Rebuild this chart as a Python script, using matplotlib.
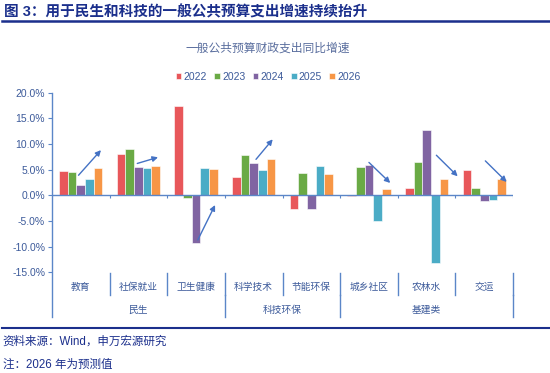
import matplotlib
matplotlib.use('Agg')
import matplotlib.pyplot as plt
from matplotlib.lines import Line2D
from matplotlib.ticker import FuncFormatter
import numpy as np

plt.rcParams['font.family'] = ['Liberation Sans', 'Noto Sans CJK SC', 'DejaVu Sans']

# data (%)
categories = ['教育', '社保就业', '卫生健康', '科学技术', '节能环保', '城乡社区', '农林水', '交运']
groups = ['民生', '科技环保', '基建类']
group_spans = [(0, 3), (3, 5), (5, 8)]
years = ['2022', '2023', '2024', '2025', '2026']
v2022 = [4.8, 8.0, 17.4, 3.5, -2.6, -0.1, 1.5, 5.0]
v2023 = [4.5, 9.0, -0.6, 7.9, 4.3, 5.6, 6.5, 1.5]
v2024 = [2.0, 5.5, -9.2, 6.2, -2.6, 5.9, 12.8, -1.1]
v2025 = [3.1, 5.3, 5.3, 4.9, 5.8, -5.0, -13.1, -0.9]
v2026 = [5.3, 5.8, 5.1, 7.1, 4.1, 1.3, 3.2, 3.2]
series = [v2022, v2023, v2024, v2025, v2026]

# trend arrows: (x_start, y_start, x_end, y_end) in category / % units
arrows = [(-0.04, 3.9, 0.35, 8.8), (0.98, 6.2, 1.34, 7.4), (2.03, -8.7, 2.33, -1.9),
          (3.04, 7.0, 3.33, 10.9), (5.0, 6.4, 5.37, 2.4), (6.17, 7.8, 6.54, 3.7),
          (7.02, 6.7, 7.39, 2.6)]

COLOURS = ['#E8575A', '#6AAA45', '#8064A2', '#4BACC6', '#F79646']
AXIS_C = '#5B86C8'
TEXT_C = '#3C5A9A'
NAVY = '#1B2F8C'

fig = plt.figure(figsize=(5.5, 3.73), dpi=100)
ax = fig.add_axes([52/550, 1 - 272.3/373, 461/550, (272.3 - 92.6)/373])

x = np.arange(len(categories))
w = 0.15
for j, vals in enumerate(series):
    ax.bar(x + (j - 2) * w, vals, w, color=COLOURS[j], label=years[j],
           edgecolor='#FFFFFF', linewidth=0.4, zorder=2)

ax.set_xlim(-0.5, len(categories) - 0.5)
ax.set_ylim(-15, 20)
ax.set_yticks(range(-15, 21, 5))
ax.yaxis.set_major_formatter(FuncFormatter(lambda v, p: '%.1f%%' % v))
ax.tick_params(axis='y', direction='out', length=3, color=AXIS_C, labelsize=7.5,
               labelcolor=TEXT_C, pad=2)
ax.set_xticks([])
for s in ['top', 'right', 'bottom', 'left']:
    ax.spines[s].set_visible(False)

# zero line with small ticks
ax.axhline(0, color=AXIS_C, lw=1.0, zorder=3)
ax.vlines(x[1:] - 0.5, -0.6, 0, color=AXIS_C, lw=0.8, zorder=3)
ax.vlines([len(categories) - 0.5], -0.6, 0, color=AXIS_C, lw=0.8, zorder=3)

# left axis line extends through the label area
tr = ax.get_xaxis_transform()
ax.plot([-0.5, -0.5], [-0.248, 1.0], color=AXIS_C, lw=1.0, transform=tr, clip_on=False)

# category labels and separators
for i, c in enumerate(categories):
    ax.text(i, -0.082, c, transform=tr, ha='center', va='center', fontsize=7, color=TEXT_C)
for b in range(1, len(categories) + 1):
    ax.plot([b - 0.5, b - 0.5], [-0.003, -0.126], color=AXIS_C, lw=1.0,
            transform=tr, clip_on=False)
for g, (a, e) in zip(groups, group_spans):
    ax.text((a + e - 1) / 2, -0.21, g, transform=tr, ha='center', va='center',
            fontsize=7, color=TEXT_C)
    ax.plot([e - 0.5, e - 0.5], [-0.126, -0.248], color=AXIS_C, lw=1.0,
            transform=tr, clip_on=False)

for xs, ys, xe, ye in arrows:
    ax.annotate('', xy=(xe, ye), xytext=(xs, ys), annotation_clip=False,
                arrowprops=dict(arrowstyle='-|>', color='#4472C4', lw=1.0,
                                mutation_scale=8, shrinkA=0, shrinkB=0), zorder=4)

ax.legend(loc='center', bbox_to_anchor=(268/550, 1 - 77/373), bbox_transform=fig.transFigure,
          ncol=5, frameon=False, fontsize=7.5, handlelength=0.55, handleheight=0.55,
          handletextpad=0.2, columnspacing=0.7, labelcolor=TEXT_C, borderaxespad=0)

fig.text(268/550, 1 - 49/373, '一般公共预算财政支出同比增速', ha='center', va='center',
         fontsize=8.5, color='#5A6E9E')

# header and footer
fig.text(0.008, 1 - 12/373, '图 3：用于民生和科技的一般公共预算支出增速持续抬升', ha='left',
         va='center', fontsize=10.5, fontweight='bold', color=NAVY)
fig.add_artist(Line2D([0.004, 0.998], [1 - 20.5/373] * 2, color=NAVY, lw=1.8))
fig.add_artist(Line2D([0.004, 0.998], [1 - 327.5/373] * 2, color=NAVY, lw=1.5))
fig.text(0.005, 1 - 342/373, '资料来源：Wind，申万宏源研究', ha='left', va='center',
         fontsize=8.3, color=NAVY)
fig.text(0.005, 1 - 365/373, '注：2026 年为预测值', ha='left', va='center',
         fontsize=8.3, color=NAVY)

fig.savefig('out.png', dpi=100)
